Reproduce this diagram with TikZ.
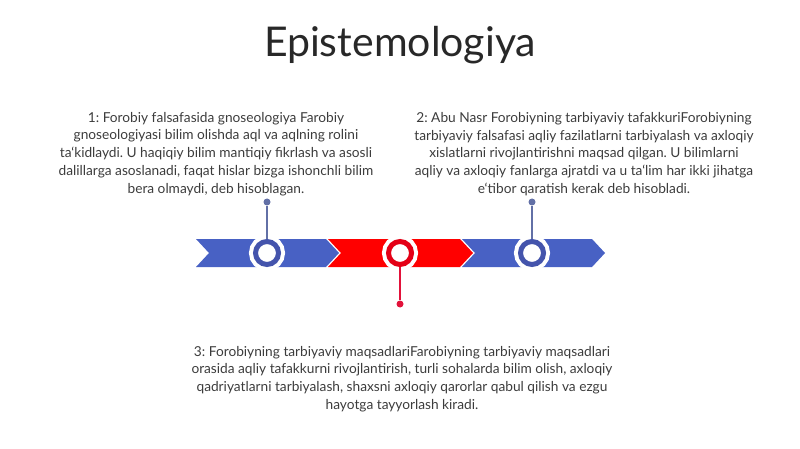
\documentclass[tikz,border=0pt]{standalone}
\usepackage{fontspec}
\setmainfont{Lato}
\usepackage{tikz}
\usepackage{xcolor}
\usetikzlibrary{shapes,arrows,positioning,calc}
\definecolor{bandblue}{RGB}{72,97,196}
\definecolor{ringblue}{RGB}{68,84,172}
\definecolor{bandred}{RGB}{255,0,0}
\definecolor{ringred}{RGB}{228,0,22}
\definecolor{stemblue}{RGB}{98,112,166}
\definecolor{stemred}{RGB}{226,18,58}
\definecolor{textgray}{RGB}{60,60,60}
\definecolor{titlegray}{RGB}{40,40,40}
\frenchspacing

\begin{document}
\begin{tikzpicture}[x=1pt,y=-1pt,
    ring/.style={circle, fill=white, draw=#1, line width=5pt, minimum size=23pt,
        inner sep=0pt, preaction={draw=white, line width=13pt}},
    pin/.style={circle, fill=#1, inner sep=0pt, minimum size=7pt},
    desc/.style={align=center, text=textgray, font=\fontsize{13.7}{17.8}\selectfont}]
    \useasboundingbox (0,0) rectangle (800,449);

    % Title
    \node[text=titlegray, font=\fontsize{41}{46}\selectfont] (title) at (400,45) {Epistemologiya};

    % Timeline band: three chevron segments
    \fill[bandblue] (196,239) -- (326,239) -- (339,253) -- (326,267) -- (196,267) -- (209,253) -- cycle;
    \fill[bandred] (328,239) -- (460,239) -- (473,253) -- (460,267) -- (328,267) -- (341,253) -- cycle;
    \fill[bandblue] (462,239) -- (592,239) -- (605,253) -- (592,267) -- (462,267) -- (475,253) -- cycle;

    % Markers on the band
    \node[ring=ringblue] (c1) at (267,253) {};
    \node[ring=ringred] (c2) at (400,253) {};
    \node[ring=ringblue] (c3) at (532,253) {};

    % Pins and stems
    \node[pin=stemblue] (d1) at (267,202) {};
    \node[pin=stemred] (d2) at (400,304) {};
    \node[pin=stemblue] (d3) at (532,202) {};
    \draw[stemblue, line width=1.2pt] (c1.north) -- (d1);
    \draw[stemred, line width=1.2pt] (c2.south) -- (d2);
    \draw[stemblue, line width=1.2pt] (c3.north) -- (d3);

    % Descriptions
    \node[desc] (t1) at (216,154) {1: Forobiy falsafasida gnoseologiya Farobiy\\
        gnoseologiyasi bilim olishda aql va aqlning rolini\\
        ta‘kidlaydi. U haqiqiy bilim mantiqiy fikrlash va asosli\\
        dalillarga asoslanadi, faqat hislar bizga ishonchli bilim\\
        bera olmaydi, deb hisoblagan.};
    \node[desc] (t2) at (584,154) {2: Abu Nasr Forobiyning tarbiyaviy tafakkuriForobiyning\\
        tarbiyaviy falsafasi aqliy fazilatlarni tarbiyalash va axloqiy\\
        xislatlarni rivojlantirishni maqsad qilgan. U bilimlarni\\
        aqliy va axloqiy fanlarga ajratdi va u ta‘lim har ikki jihatga\\
        e‘tibor qaratish kerak deb hisobladi.};
    \node[desc] (t3) at (402,379) {3: Forobiyning tarbiyaviy maqsadlariFarobiyning tarbiyaviy maqsadlari\\
        orasida aqliy tafakkurni rivojlantirish, turli sohalarda bilim olish, axloqiy\\
        qadriyatlarni tarbiyalash, shaxsni axloqiy qarorlar qabul qilish va ezgu\\
        hayotga tayyorlash kiradi.};
\end{tikzpicture}
\end{document}
